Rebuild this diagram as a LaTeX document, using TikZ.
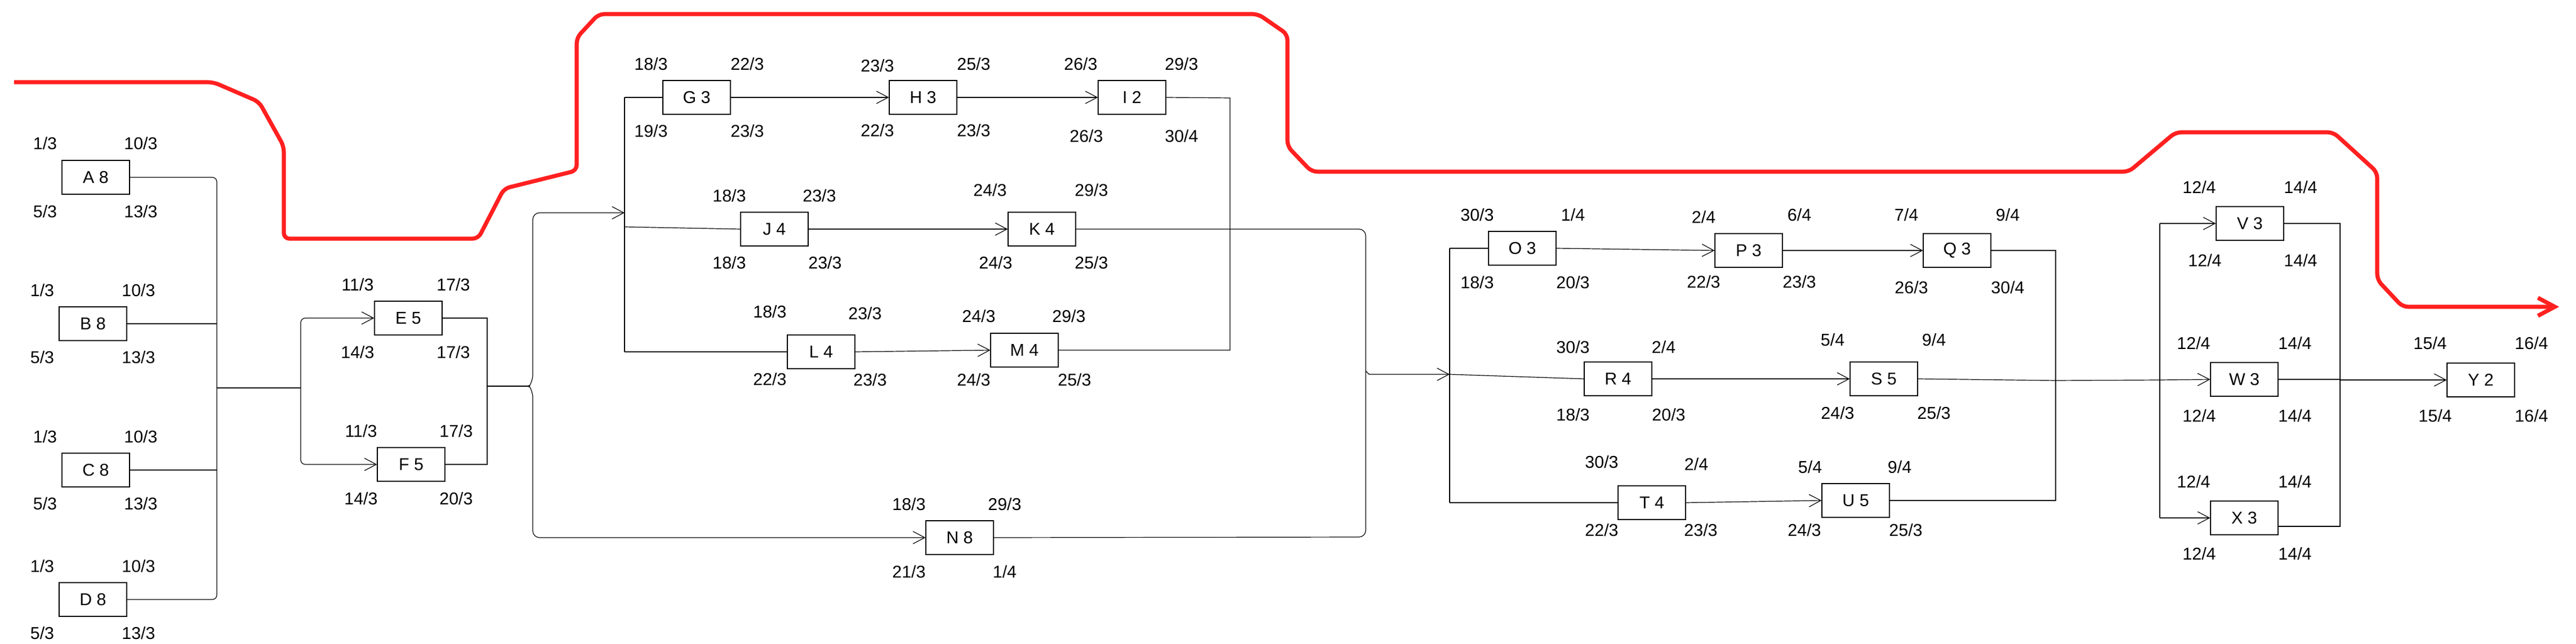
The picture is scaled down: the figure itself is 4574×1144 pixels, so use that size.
\documentclass[tikz,border=0pt]{standalone}
\usepackage{fontspec}
\setmainfont{Liberation Sans}
\usetikzlibrary{arrows.meta}
\definecolor{critred}{RGB}{255,32,32}
\begin{document}
\begin{tikzpicture}[x=0.25pt,y=-0.25pt,
  act/.style={draw, line width=0.3pt, minimum width=30pt, minimum height=15pt, inner sep=0pt, font=\fontsize{7.6}{9}\selectfont},
  lbl/.style={inner sep=0pt, font=\fontsize{7.6}{9}\selectfont},
  conn/.style={line width=0.3pt},
  arr/.style={conn, -{Straight Barb[length=5.25pt,width=5.5pt]}},
  crit/.style={line width=1.8pt, draw=critred, rounded corners=2.5pt, -{Straight Barb[length=7.5pt,width=8pt]}}
]
\useasboundingbox (0,0) rectangle (4574,1144);

% ---- activity boxes ----
\node[act] (A) at (170,315) {A 8};
\node[act] (B) at (165,575) {B 8};
\node[act] (C) at (170,835) {C 8};
\node[act] (D) at (165,1065) {D 8};
\node[act] (E) at (725,565) {E 5};
\node[act] (F) at (730,825) {F 5};
\node[act] (G) at (1237,173) {G 3};
\node[act] (H) at (1639,173) {H 3};
\node[act] (I) at (2010,173) {I 2};
\node[act] (J) at (1375,407) {J 4};
\node[act] (K) at (1850,407) {K 4};
\node[act] (L) at (1458,625) {L 4};
\node[act] (M) at (1819,622) {M 4};
\node[act] (N) at (1704,955) {N 8};
\node[act] (O) at (2703,441) {O 3};
\node[act] (P) at (3105,445) {P 3};
\node[act] (Q) at (3475,445) {Q 3};
\node[act] (R) at (2873,673) {R 4};
\node[act] (S) at (3345,673) {S 5};
\node[act] (T) at (2933,893) {T 4};
\node[act] (U) at (3295,889) {U 5};
\node[act] (V) at (3995,397) {V 3};
\node[act] (W) at (3985,674) {W 3};
\node[act] (X) at (3985,920) {X 3};
\node[act] (Y) at (4405,675) {Y 2};

% ---- time labels ----
\node[lbl] (A1) at (80,255) {1/3};   \node[lbl] (A2) at (250,255) {10/3};
\node[lbl] (A3) at (80,376) {5/3};   \node[lbl] (A4) at (250,376) {13/3};
\node[lbl] (B1) at (75,516) {1/3};   \node[lbl] (B2) at (246,516) {10/3};
\node[lbl] (B3) at (75,635) {5/3};   \node[lbl] (B4) at (246,635) {13/3};
\node[lbl] (C1) at (80,776) {1/3};   \node[lbl] (C2) at (250,776) {10/3};
\node[lbl] (C3) at (80,895) {5/3};   \node[lbl] (C4) at (250,895) {13/3};
\node[lbl] (D1) at (75,1006) {1/3};  \node[lbl] (D2) at (246,1006) {10/3};
\node[lbl] (D3) at (75,1125) {5/3};  \node[lbl] (D4) at (246,1125) {13/3};
\node[lbl] (E1) at (635,506) {11/3}; \node[lbl] (E2) at (805,506) {17/3};
\node[lbl] (E3) at (635,626) {14/3}; \node[lbl] (E4) at (805,626) {17/3};
\node[lbl] (F1) at (641,766) {11/3}; \node[lbl] (F2) at (810,766) {17/3};
\node[lbl] (F3) at (641,886) {14/3}; \node[lbl] (F4) at (810,886) {20/3};
\node[lbl] (G1) at (1156,114) {18/3}; \node[lbl] (G2) at (1327,114) {22/3};
\node[lbl] (G3) at (1156,233) {19/3}; \node[lbl] (G4) at (1327,233) {23/3};
\node[lbl] (H1) at (1558,117) {23/3}; \node[lbl] (H2) at (1729,114) {25/3};
\node[lbl] (H3) at (1558,232) {22/3}; \node[lbl] (H4) at (1729,232) {23/3};
\node[lbl] (I1) at (1919,114) {26/3}; \node[lbl] (I2) at (2098,114) {29/3};
\node[lbl] (I3) at (1929,242) {26/3}; \node[lbl] (I4) at (2098,242) {30/4};
\node[lbl] (J1) at (1295,348) {18/3}; \node[lbl] (J2) at (1455,348) {23/3};
\node[lbl] (J3) at (1295,467) {18/3}; \node[lbl] (J4) at (1465,467) {23/3};
\node[lbl] (K1) at (1758,338) {24/3}; \node[lbl] (K2) at (1938,338) {29/3};
\node[lbl] (K3) at (1768,467) {24/3}; \node[lbl] (K4) at (1938,467) {25/3};
\node[lbl] (L1) at (1367,554) {18/3}; \node[lbl] (L2) at (1536,557) {23/3};
\node[lbl] (L3) at (1367,674) {22/3}; \node[lbl] (L4) at (1545,675) {23/3};
\node[lbl] (M1) at (1738,562) {24/3}; \node[lbl] (M2) at (1898,562) {29/3};
\node[lbl] (M3) at (1729,675) {24/3}; \node[lbl] (M4) at (1908,675) {25/3};
\node[lbl] (N1) at (1614,896) {18/3}; \node[lbl] (N2) at (1784,896) {29/3};
\node[lbl] (N3) at (1614,1016) {21/3}; \node[lbl] (N4) at (1784,1016) {1/4};
\node[lbl] (O1) at (2623,382) {30/3}; \node[lbl] (O2) at (2793,382) {1/4};
\node[lbl] (O3) at (2623,502) {18/3}; \node[lbl] (O4) at (2793,502) {20/3};
\node[lbl] (P1) at (3025,386) {2/4};  \node[lbl] (P2) at (3195,382) {6/4};
\node[lbl] (P3) at (3025,501) {22/3}; \node[lbl] (P4) at (3195,501) {23/3};
\node[lbl] (Q1) at (3385,382) {7/4};  \node[lbl] (Q2) at (3565,382) {9/4};
\node[lbl] (Q3) at (3394,511) {26/3}; \node[lbl] (Q4) at (3565,511) {30/4};
\node[lbl] (R1) at (2793,617) {30/3}; \node[lbl] (R2) at (2954,617) {2/4};
\node[lbl] (R3) at (2793,737) {18/3}; \node[lbl] (R4) at (2963,737) {20/3};
\node[lbl] (S1) at (3254,604) {5/4};  \node[lbl] (S2) at (3434,604) {9/4};
\node[lbl] (S3) at (3263,734) {24/3}; \node[lbl] (S4) at (3434,734) {25/3};
\node[lbl] (T1) at (2844,821) {30/3}; \node[lbl] (T2) at (3012,825) {2/4};
\node[lbl] (T3) at (2844,942) {22/3}; \node[lbl] (T4) at (3020,942) {23/3};
\node[lbl] (U1) at (3214,830) {5/4};  \node[lbl] (U2) at (3373,830) {9/4};
\node[lbl] (U3) at (3204,942) {24/3}; \node[lbl] (U4) at (3384,942) {25/3};
\node[lbl] (V1) at (3905,333) {12/4}; \node[lbl] (V2) at (4085,333) {14/4};
\node[lbl] (V3) at (3915,463) {12/4}; \node[lbl] (V4) at (4085,463) {14/4};
\node[lbl] (W1) at (3895,610) {12/4}; \node[lbl] (W2) at (4075,610) {14/4};
\node[lbl] (W3) at (3905,739) {12/4}; \node[lbl] (W4) at (4075,739) {14/4};
\node[lbl] (X1) at (3895,856) {12/4}; \node[lbl] (X2) at (4075,856) {14/4};
\node[lbl] (X3) at (3905,984) {12/4}; \node[lbl] (X4) at (4075,984) {14/4};
\node[lbl] (Y1) at (4315,610) {15/4}; \node[lbl] (Y2) at (4495,610) {16/4};
\node[lbl] (Y3) at (4324,739) {15/4}; \node[lbl] (Y4) at (4495,739) {16/4};

% ---- junction points ----
\coordinate (abT) at (385,315);  \coordinate (abB) at (385,1065);  \coordinate (abM) at (385,689);
\coordinate (efL) at (534,689);  \coordinate (efR) at (865,686);   \coordinate (br1) at (940,686);
\coordinate (gT) at (1109,173);  \coordinate (gIn) at (1109,378);  \coordinate (gJ) at (1109,403);
\coordinate (gB) at (1109,625);
\coordinate (iR) at (2184,174);  \coordinate (mR) at (2184,622);
\coordinate (br2) at (2425,407); \coordinate (br2b) at (2425,954);
\coordinate (oT) at (2574,441);  \coordinate (oM) at (2574,665);   \coordinate (oB) at (2574,893);
\coordinate (qR) at (3650,445);  \coordinate (uR) at (3650,889);   \coordinate (sR) at (3650,676);
\coordinate (vT) at (3835,397);  \coordinate (vM) at (3835,675);   \coordinate (vB) at (3835,920);
\coordinate (wT) at (4155,397);  \coordinate (wM) at (4155,675);   \coordinate (wB) at (4155,935);

% ---- connectors ----
\draw[conn, rounded corners=2pt] (A.east) -- (abT) -- (abB) -- (D.east);
\draw[conn] (B.east) -- (abT |- B.east);
\draw[conn] (C.east) -- (abT |- C.east);
\draw[conn] (abM) -- (efL);
\draw[arr, rounded corners=2pt] (efL) -- (efL |- E.west) -- (E.west);
\draw[arr, rounded corners=2pt] (efL) -- (efL |- F.west) -- (F.west);
\draw[conn] (E.east) -- (efR |- E.east) -- (efR |- F.east) -- (F.east);
\draw[conn] (efR) -- (br1);
\draw[arr, rounded corners=3pt] (br1) -- ++(6,-8) -- (946,378) -- (gIn);
\draw[arr, rounded corners=3pt] (br1) -- ++(6,8) -- (946,955) -- (N.west);

\draw[conn] (gT) -- (gB);
\draw[conn] (gT) -- (G.west);
\draw[conn] (gJ) -- (J.west);
\draw[conn] (gB) -- (L.west);
\draw[arr] (G) -- (H);
\draw[arr] (H) -- (I);
\draw[arr] (J) -- (K);
\draw[arr] (L.east) -- (M.west);
\draw[conn] (I.east) -- (iR) -- (mR) -- (M.east);
\draw[conn, rounded corners=3pt] (K.east) -- (br2) -- (br2b) -- (N.east);
\draw[arr] (2425,659) -- (2431,665) -- (oM);

\draw[conn] (oT) -- (oB);
\draw[conn] (oT) -- (O.west);
\draw[conn] (oM) -- (R.west);
\draw[conn] (oB) -- (T.west);
\draw[arr] (O.east) -- (P.west);
\draw[arr] (P) -- (Q);
\draw[arr] (R) -- (S);
\draw[arr] (T.east) -- (U.west);
\draw[conn] (Q.east) -- (qR) -- (uR) -- (U.east);
\draw[conn] (S.east) -- (sR) -- (vM);

\draw[conn] (vT) -- (vB);
\draw[arr] (vT) -- (V.west);
\draw[arr] (vM) -- (W.west);
\draw[arr] (vB) -- (X.west);
\draw[conn] (V.east) -- (wT) -- (wB) -- (X.east |- wB);
\draw[conn] (W.east) -- (W.east -| wT);
\draw[arr] (wM) -- (Y.west);

% ---- critical path ----
\draw[crit] (25,146) -- (379,146) -- (460,181) -- (504,260) -- (504,424) -- (849,424)
  -- (895,335) -- (1024,303) -- (1024,67) -- (1063,25) -- (2234,25) -- (2286,61)
  -- (2286,260) -- (2329,305) -- (3780,305) -- (3863,235) -- (4143,235) -- (4221,306)
  -- (4221,497) -- (4266,545) -- (4544,545);
\end{tikzpicture}
\end{document}
